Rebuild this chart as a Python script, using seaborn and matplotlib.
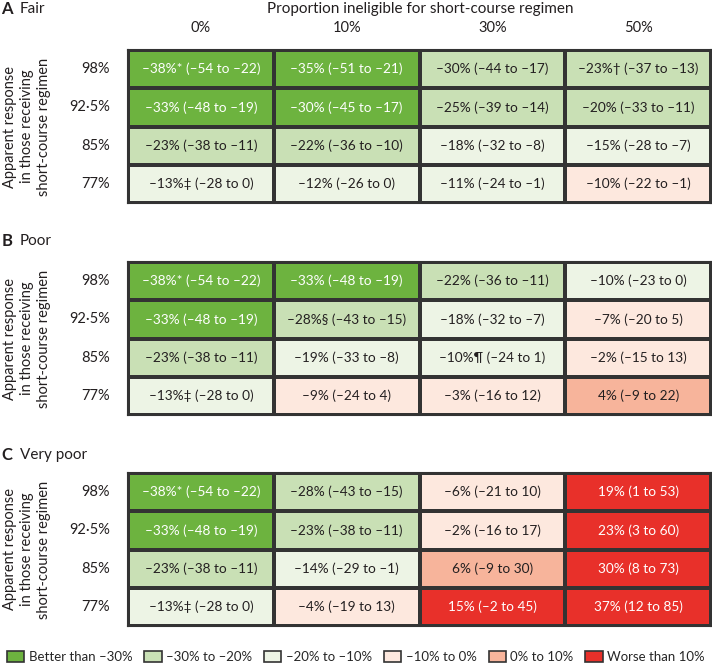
import numpy as np
import matplotlib.pyplot as plt
import seaborn as sns
from matplotlib.colors import ListedColormap
from matplotlib.patches import Patch

# data
col_labels = ['0%', '10%', '30%', '50%']
row_labels = ['98%', '92·5%', '85%', '77%']
panel_letters = ['A', 'B', 'C']
panel_names = ['Fair', 'Poor', 'Very poor']

fair_text = [
    ['–38%* (–54 to –22)', '–35% (–51 to –21)', '–30% (–44 to –17)', '–23%† (–37 to –13)'],
    ['–33% (–48 to –19)', '–30% (–45 to –17)', '–25% (–39 to –14)', '–20% (–33 to –11)'],
    ['–23% (–38 to –11)', '–22% (–36 to –10)', '–18% (–32 to –8)', '–15% (–28 to –7)'],
    ['–13%‡ (–28 to 0)', '–12% (–26 to 0)', '–11% (–24 to –1)', '–10% (–22 to –1)'],
]
fair_class = [[0, 0, 1, 1], [0, 0, 1, 1], [1, 1, 2, 2], [2, 2, 2, 3]]

poor_text = [
    ['–38%* (–54 to –22)', '–33% (–48 to –19)', '–22% (–36 to –11)', '–10% (–23 to 0)'],
    ['–33% (–48 to –19)', '–28%§ (–43 to –15)', '–18% (–32 to –7)', '–7% (–20 to 5)'],
    ['–23% (–38 to –11)', '–19% (–33 to –8)', '–10%¶ (–24 to 1)', '–2% (–15 to 13)'],
    ['–13%‡ (–28 to 0)', '–9% (–24 to 4)', '–3% (–16 to 12)', '4% (–9 to 22)'],
]
poor_class = [[0, 0, 1, 2], [0, 1, 2, 3], [1, 2, 2, 3], [2, 3, 3, 4]]

verypoor_text = [
    ['–38%* (–54 to –22)', '–28% (–43 to –15)', '–6% (–21 to 10)', '19% (1 to 53)'],
    ['–33% (–48 to –19)', '–23% (–38 to –11)', '–2% (–16 to 17)', '23% (3 to 60)'],
    ['–23% (–38 to –11)', '–14% (–29 to –1)', '6% (–9 to 30)', '30% (8 to 73)'],
    ['–13%‡ (–28 to 0)', '–4% (–19 to 13)', '15% (–2 to 45)', '37% (12 to 85)'],
]
verypoor_class = [[0, 1, 3, 5], [0, 1, 3, 5], [1, 2, 4, 5], [2, 3, 5, 5]]

legend_labels = ['Better than –30%', '–30% to –20%', '–20% to –10%',
                 '–10% to 0%', '0% to 10%', 'Worse than 10%']
colors = ['#6db33f', '#c9e0b5', '#edf4e5', '#fde8de', '#f7b49b', '#e8302a']
text_colors = ['white', '#231f20', '#231f20', '#231f20', '#231f20', 'white']

sns.set_theme(style='white')
plt.rcParams['font.family'] = ['Lato', 'DejaVu Sans']

fig = plt.figure(figsize=(7.12, 6.68), dpi=100)
cmap = ListedColormap(colors)
dark = '#231f20'

panels = [(fair_text, fair_class), (poor_text, poor_class), (verypoor_text, verypoor_class)]
tops = [50, 262, 473]
label_y = [9, 241, 455]
H = 153

for i, (texts, classes) in enumerate(panels):
    top = tops[i]
    ax = fig.add_axes([128 / 712, 1 - (top + H) / 668, 583 / 712, H / 668])
    cls = np.array(classes)
    sns.heatmap(cls, ax=ax, cmap=cmap, vmin=-0.5, vmax=5.5, cbar=False,
                linewidths=1.5, linecolor='#333333', annot=False,
                xticklabels=col_labels, yticklabels=row_labels)
    for r in range(4):
        for c in range(4):
            ax.text(c + 0.5, r + 0.5, texts[r][c], ha='center', va='center',
                    fontsize=9.8, color=text_colors[cls[r, c]])
    for s in ax.spines.values():
        s.set_visible(True)
        s.set_linewidth(1.5)
        s.set_color('#333333')
    ax.tick_params(axis='y', length=0, pad=13, labelsize=10.5, labelcolor=dark)
    for t in ax.get_yticklabels():
        t.set_rotation(0)
    if i == 0:
        ax.xaxis.tick_top()
        ax.tick_params(axis='x', length=0, pad=11, labelsize=10.5, labelcolor=dark)
    else:
        ax.set_xticks([])
    ax.set_ylabel('')

    yc = 1 - (top + H / 2) / 668
    fig.text(27 / 712, yc, 'Apparent response\nin those receiving\nshort-course regimen',
             rotation=90, ha='center', va='center', multialignment='center',
             fontsize=10.5, color=dark, linespacing=1.25)

    y = 1 - label_y[i] / 668
    fig.text(0.002, y, panel_letters[i], fontsize=12, fontweight='bold', color=dark, va='center')
    fig.text(0.028, y, panel_names[i], fontsize=11, color=dark, va='center')

fig.text(420 / 712, 1 - 9 / 668, 'Proportion ineligible for short-course regimen',
         ha='center', va='center', fontsize=11, color=dark)

handles = [Patch(facecolor=c, edgecolor='#333333', linewidth=1.2) for c in colors]
fig.legend(handles, legend_labels, loc='center', bbox_to_anchor=(0.5, 1 - 657 / 668),
           ncol=6, frameon=False, fontsize=9.5, handlelength=1.3, handleheight=0.95,
           handletextpad=0.35, columnspacing=0.9, borderaxespad=0, borderpad=0)

fig.savefig('out.png', dpi=100)
